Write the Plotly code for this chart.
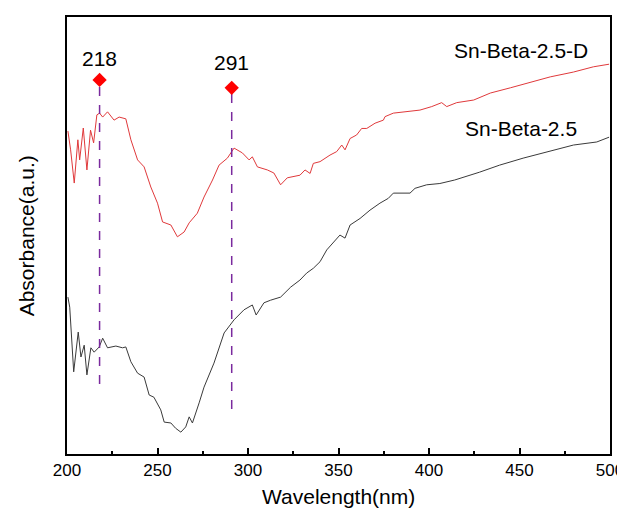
import plotly.graph_objects as go

# Sn-Beta-2.5-D (red)
wl_d = [200.5, 202, 204, 206, 207, 209, 211, 213, 214.7, 216.5, 218, 219.7, 222.4, 226, 228.8,
        232.5, 235.3, 239, 242.6, 246.3, 250, 252.8, 257.4, 261, 264.7, 267.5, 272, 275.7, 280.4,
        284, 288.6, 292.3, 296.9, 300.6, 302.4, 305.2, 310.7, 314.3, 318, 321.7, 328.7, 331.5,
        334.3, 336.1, 339.8, 345.3, 349, 351.8, 353.6, 356.4, 360, 362.8, 365.6, 370.2, 374.8,
        375.7, 380.3, 387.7, 395, 401.5, 407, 409.8, 415.3, 424.7, 433.9, 445, 456, 467, 479.8,
        490.8, 499.5]
abs_d = [0.739, 0.696, 0.620, 0.719, 0.673, 0.746, 0.650, 0.741, 0.712, 0.776, 0.780, 0.771, 0.783,
         0.764, 0.771, 0.767, 0.719, 0.673, 0.657, 0.611, 0.574, 0.531, 0.524, 0.497, 0.508, 0.529,
         0.551, 0.588, 0.627, 0.661, 0.677, 0.700, 0.689, 0.673, 0.680, 0.657, 0.650, 0.643, 0.616,
         0.632, 0.638, 0.650, 0.642, 0.665, 0.669, 0.684, 0.692, 0.707, 0.696, 0.722, 0.730, 0.745,
         0.745, 0.757, 0.764, 0.772, 0.780, 0.783, 0.787, 0.795, 0.804, 0.795, 0.804, 0.810, 0.826,
         0.838, 0.851, 0.863, 0.874, 0.886, 0.892]

# Sn-Beta-2.5 (black)
wl_s = [200.5, 201.5, 203.7, 206.2, 207.7, 209.5, 211, 213.2, 215, 217.8, 219.7, 222.4, 227, 230.7,
        232.5, 235.3, 239, 242.6, 245.4, 248, 251.8, 253.7, 257.4, 260, 262.9, 265.6, 267.5, 269.3,
        273, 275.7, 281.2, 286.8, 292.3, 297.8, 302.4, 304.5, 308.8, 312.5, 318, 323.6, 328.7,
        332.4, 336.1, 339.8, 343.5, 348.1, 350.8, 353.6, 356.4, 361.9, 367.4, 372.9, 377.5, 380.3,
        384, 389.5, 392.3, 398.7, 406, 414.2, 428, 439, 452, 465, 479.8, 492.7, 499.5]
abs_s = [0.359, 0.336, 0.188, 0.279, 0.222, 0.249, 0.181, 0.243, 0.233, 0.245, 0.265, 0.243, 0.247,
         0.243, 0.245, 0.211, 0.185, 0.176, 0.135, 0.130, 0.101, 0.073, 0.071, 0.059, 0.050, 0.062,
         0.085, 0.071, 0.117, 0.153, 0.208, 0.277, 0.307, 0.330, 0.341, 0.318, 0.346, 0.352, 0.359,
         0.382, 0.398, 0.414, 0.425, 0.440, 0.467, 0.488, 0.501, 0.494, 0.524, 0.539, 0.558, 0.574,
         0.585, 0.597, 0.597, 0.597, 0.608, 0.616, 0.619, 0.627, 0.645, 0.661, 0.677, 0.691, 0.707,
         0.714, 0.725]

peak_wl = [218, 291]
peak_top = [0.856, 0.838]
peak_bottom = [0.160, 0.103]
peak_label_y = [0.906, 0.895]
peak_labels = ["218", "291"]

series_names = ["Sn-Beta-2.5-D", "Sn-Beta-2.5"]
series_label_x = [451, 451]
series_label_y = [0.924, 0.746]

x_ticks = [200, 250, 300, 350, 400, 450, 500]
x_title = "Wavelength(nm)"
y_title = "Absorbance(a.u.)"

FONT = "Liberation Sans, Arial, sans-serif"

fig = go.Figure()
fig.add_trace(go.Scatter(x=wl_d, y=abs_d, mode="lines",
                         line=dict(color="#e0393b", width=1), showlegend=False))
fig.add_trace(go.Scatter(x=wl_s, y=abs_s, mode="lines",
                         line=dict(color="#3a3a3a", width=1), showlegend=False))

for w, t, b in zip(peak_wl, peak_top, peak_bottom):
    fig.add_trace(go.Scatter(x=[w, w], y=[b, t], mode="lines",
                             line=dict(color="#7a2a9e", width=1.5, dash="dash"), showlegend=False))
fig.add_trace(go.Scatter(x=peak_wl, y=peak_top, mode="markers",
                         marker=dict(symbol="diamond", color="#ff0000", size=11), showlegend=False))

for w, y, t in zip(peak_wl, peak_label_y, peak_labels):
    fig.add_annotation(x=w, y=y, text=t, showarrow=False,
                       font=dict(family=FONT, size=21, color="black"))
for x, y, t in zip(series_label_x, series_label_y, series_names):
    fig.add_annotation(x=x, y=y, text=t, showarrow=False,
                       font=dict(family=FONT, size=21, color="black"))

# axis titles
fig.add_annotation(xref="paper", yref="paper", x=0.5, y=-0.098, text=x_title,
                   showarrow=False, yanchor="middle",
                   font=dict(family=FONT, size=21, color="black"))
fig.add_annotation(xref="paper", yref="paper", x=-0.074, y=0.5, text=y_title,
                   showarrow=False, textangle=-90, xanchor="center", yanchor="middle",
                   font=dict(family=FONT, size=21, color="black"))

# page body adds an 8px margin, so the figure is sized to fit inside the window
fig.update_layout(
    width=617, height=506,
    margin=dict(l=59, r=15, t=9, b=60),
    paper_bgcolor="white", plot_bgcolor="white",
    font=dict(family=FONT, color="black"),
)
fig.update_xaxes(range=[200, 500], tickvals=x_ticks, automargin=False,
                 ticks="inside", ticklen=6, tickwidth=1.5, tickcolor="black",
                 minor=dict(ticks="inside", ticklen=3, tickwidth=1.5, tickcolor="black", dtick=25),
                 showline=True, linecolor="black", linewidth=1.5, mirror=True,
                 showgrid=False, zeroline=False,
                 tickfont=dict(family=FONT, size=17))
fig.update_yaxes(range=[0, 1], showticklabels=False, ticks="", automargin=False,
                 showline=True, linecolor="black", linewidth=1.5, mirror=True,
                 showgrid=False, zeroline=False)

fig.write_html("out.html")
